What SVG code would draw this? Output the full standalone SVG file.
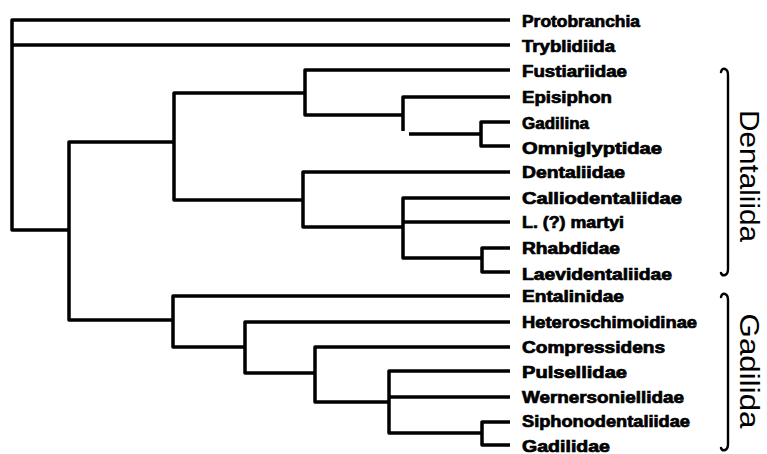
<svg xmlns="http://www.w3.org/2000/svg" width="767" height="454" viewBox="0 0 767 454">
<style>
.e{fill:none;stroke:#000;stroke-width:3.5;stroke-linejoin:round;stroke-linecap:butt}
.b{fill:none;stroke:#000;stroke-width:2.4;stroke-linejoin:round;stroke-linecap:round}
.t{font-family:"Liberation Sans",Arial,sans-serif;font-weight:bold;font-size:16px;fill:#000;stroke:#000;stroke-width:0.7}
.g{font-family:"Liberation Sans",Arial,sans-serif;font-size:27px;fill:#000}
</style>
<rect width="767" height="454" fill="#fff"/>
<g id="connectors">
<path class="e" d="M510 20 H12 V230 H69"/>
<path class="e" d="M12 45 H510"/>
<path class="e" d="M174 142 H69 V320 H173"/>
<path class="e" d="M305 93 H174 V200 H303"/>
<path class="e" d="M510 70 H305 V115 H403"/>
<path class="e" d="M510 97 H403 V131"/>
<path class="e" d="M409 134 H481"/>
<path class="e" d="M510 122 H481 V146 H510"/>
<path class="e" d="M510 172 H303 V227 H403"/>
<path class="e" d="M510 198 H403 V258 H482"/>
<path class="e" d="M403 222 H510"/>
<path class="e" d="M510 248 H482 V272 H510"/>
<path class="e" d="M510 296 H173 V347 H245"/>
<path class="e" d="M510 322 H245 V373 H315"/>
<path class="e" d="M510 347 H315 V402 H389"/>
<path class="e" d="M510 371 H389 V433 H482"/>
<path class="e" d="M389 397 H510"/>
<path class="e" d="M510 422 H482 V445 H510"/>
</g>
<g id="leaf-protobranchia"><text class="t" x="522" y="27" textLength="118" lengthAdjust="spacingAndGlyphs">Protobranchia</text></g>
<g id="leaf-tryblidiida"><text class="t" x="522" y="52" textLength="93" lengthAdjust="spacingAndGlyphs">Tryblidiida</text></g>
<g id="leaf-fustiariidae"><text class="t" x="522" y="77" textLength="105" lengthAdjust="spacingAndGlyphs">Fustiariidae</text></g>
<g id="leaf-episiphon"><text class="t" x="522" y="103" textLength="90" lengthAdjust="spacingAndGlyphs">Episiphon</text></g>
<g id="leaf-gadilina"><text class="t" x="522" y="129" textLength="67" lengthAdjust="spacingAndGlyphs">Gadilina</text></g>
<g id="leaf-omniglyptidae"><text class="t" x="522" y="154" textLength="140" lengthAdjust="spacingAndGlyphs">Omniglyptidae</text></g>
<g id="leaf-dentaliidae"><text class="t" x="522" y="178" textLength="103" lengthAdjust="spacingAndGlyphs">Dentaliidae</text></g>
<g id="leaf-calliodentaliidae"><text class="t" x="522" y="204" textLength="160" lengthAdjust="spacingAndGlyphs">Calliodentaliidae</text></g>
<g id="leaf-martyi"><text class="t" x="522" y="228" textLength="102" lengthAdjust="spacingAndGlyphs">L. (?) martyi</text></g>
<g id="leaf-rhabdidae"><text class="t" x="522" y="254" textLength="98" lengthAdjust="spacingAndGlyphs">Rhabdidae</text></g>
<g id="leaf-laevidentaliidae"><text class="t" x="522" y="280" textLength="150" lengthAdjust="spacingAndGlyphs">Laevidentaliidae</text></g>
<g id="leaf-entalinidae"><text class="t" x="522" y="302" textLength="102" lengthAdjust="spacingAndGlyphs">Entalinidae</text></g>
<g id="leaf-heteroschimoidinae"><text class="t" x="522" y="328" textLength="175" lengthAdjust="spacingAndGlyphs">Heteroschimoidinae</text></g>
<g id="leaf-compressidens"><text class="t" x="522" y="353" textLength="143" lengthAdjust="spacingAndGlyphs">Compressidens</text></g>
<g id="leaf-pulsellidae"><text class="t" x="522" y="378" textLength="105" lengthAdjust="spacingAndGlyphs">Pulsellidae</text></g>
<g id="leaf-wernersoniellidae"><text class="t" x="522" y="403" textLength="162" lengthAdjust="spacingAndGlyphs">Wernersoniellidae</text></g>
<g id="leaf-siphonodentaliidae"><text class="t" x="522" y="427" textLength="168" lengthAdjust="spacingAndGlyphs">Siphonodentaliidae</text></g>
<g id="leaf-gadilidae"><text class="t" x="522" y="452" textLength="88" lengthAdjust="spacingAndGlyphs">Gadilidae</text></g>
<g id="group-dentaliida">
<path class="b" d="M721 72 Q722 68 725 69 Q728 70 728 75 V269 Q728 274 725 275 Q722 276 721 273"/>
<text class="g" transform="translate(740,176) rotate(90)" x="0" y="0" text-anchor="middle" textLength="132" lengthAdjust="spacingAndGlyphs">Dentaliida</text>
</g>
<g id="group-gadilida">
<path class="b" d="M721 297 Q722 293 725 294 Q728 295 728 300 V444 Q728 449 725 450 Q722 451 721 448"/>
<text class="g" transform="translate(740,371) rotate(90)" x="0" y="0" text-anchor="middle" textLength="115" lengthAdjust="spacingAndGlyphs">Gadilida</text>
</g>
</svg>
